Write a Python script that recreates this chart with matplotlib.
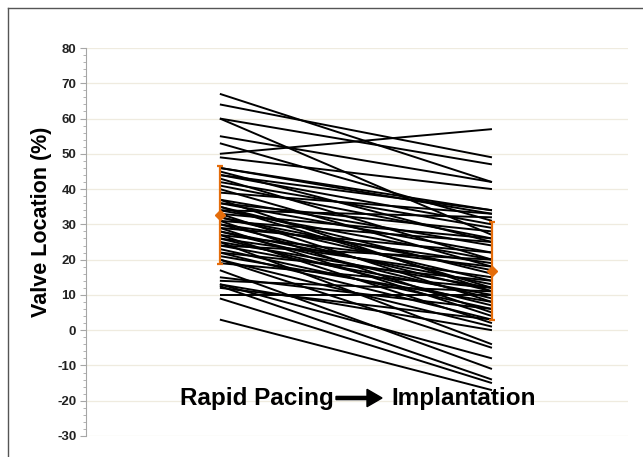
import matplotlib
matplotlib.use("Agg")
import matplotlib.pyplot as plt
from matplotlib.ticker import MultipleLocator
from matplotlib.lines import Line2D

plt.rcParams["axes.unicode_minus"] = False

# valve location (%) for each patient: rapid pacing -> implantation
pacing = [67, 64, 60, 60, 55, 53, 50, 49, 46, 46, 45, 44, 44, 43, 42, 41,
          40, 39, 37, 37, 36, 36, 35, 35, 34, 34, 33, 33, 32, 32, 31, 31,
          30, 30, 29, 29, 28, 28, 27, 27, 26, 26, 25, 25, 24, 24, 23, 22,
          22, 21, 20, 20, 19, 17, 15, 14, 13, 13, 12.5, 12, 10, 9, 3]
implant = [42, 49, 47, 27, 42, 31, 57, 40, 34, 33, 25, 30, 34, 20, 29, 26,
           18, 33, 24, 11, 28, 22, 16, 12, 32, 20, 26, 8, 17, 14, 25, 5,
           19, 11, 22, 4, 13, 9, 18, 2, 15, 7, 12, -4, 10, 20, 6, 14,
           3, 8, 1, -5, 12, -11, 6, 11, -8, 0, -14, 3, 10, -15, -17]

# mean and spread
means = [32.7, 16.7]
lower = [18.7, 2.8]
upper = [46.5, 30.8]

orange = "#E46C0A"

fig = plt.figure(figsize=(6.43, 4.57), dpi=100)
ax = fig.add_axes([86/643, 1-436/457, 542/643, 388/457])

for a, b in zip(pacing, implant):
    ax.plot([1, 2], [a, b], color="black", lw=1.4, solid_capstyle="butt", zorder=3)

err = [[m - l for m, l in zip(means, lower)], [u - m for m, u in zip(means, upper)]]
ax.errorbar([1, 2], means, yerr=err, fmt="D", color=orange, ms=5,
            elinewidth=1.6, capsize=2, capthick=1.6, zorder=4)

ax.set_ylim(-30, 80)
ax.set_xlim(0.508, 2.5)
ax.yaxis.set_major_locator(MultipleLocator(10))
ax.yaxis.set_minor_locator(MultipleLocator(2))
ax.grid(axis="y", color="#EFEBDF", lw=0.9, zorder=0)
ax.set_axisbelow(True)
for s in ["top", "right", "bottom"]:
    ax.spines[s].set_visible(False)
ax.spines["left"].set_color("#A6A6A6")
ax.set_xticks([])
ax.tick_params(axis="y", which="major", length=4, color="#A6A6A6",
               labelsize=9.5, pad=3)
ax.tick_params(axis="y", which="minor", length=2, color="#A6A6A6")
for t in ax.get_yticklabels():
    t.set_fontfamily("Liberation Sans")
    t.set_fontweight("bold")
    t.set_color("#222222")

ax.set_ylabel("Valve Location (%)", fontsize=15.5, fontweight="bold",
              family="Liberation Sans")
ax.yaxis.set_label_coords(-34/542, (436-222)/388)

# bottom label with arrow
fig.text(334/643, 1-398/457, "Rapid Pacing", ha="right", va="center",
         fontsize=17.5, fontweight="bold", family="Liberation Sans")
fig.text(391/643, 1-398/457, "Implantation", ha="left", va="center",
         fontsize=17.5, fontweight="bold", family="Liberation Sans")
fig.add_artist(matplotlib.patches.FancyArrow(
    336/643, 1-398/457, 46/643, 0, width=0.007, head_width=0.038,
    head_length=15/643, length_includes_head=True, color="black",
    transform=fig.transFigure))

# picture border
fig.add_artist(Line2D([8/643, 8/643], [0, 1-8/457], color="#555555", lw=1,
                      transform=fig.transFigure))
fig.add_artist(Line2D([8/643, 1], [1-8/457, 1-8/457], color="#555555", lw=1,
                      transform=fig.transFigure))

fig.savefig("out.png", dpi=100)
